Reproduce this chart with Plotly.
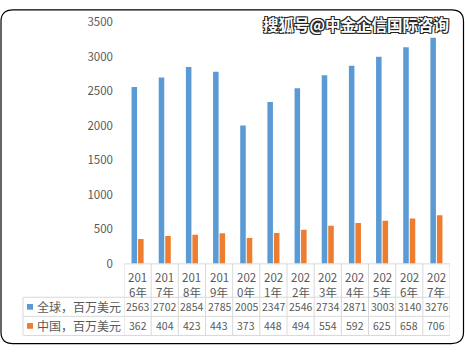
import plotly.graph_objects as go

years = ["2016年", "2017年", "2018年", "2019年", "2020年", "2021年",
         "2022年", "2023年", "2024年", "2025年", "2026年", "2027年"]
global_vals = [2563, 2702, 2854, 2785, 2005, 2347, 2546, 2734, 2871, 3003, 3140, 3276]
china_vals = [362, 404, 423, 443, 373, 448, 494, 554, 592, 625, 658, 706]
series_names = ["全球，百万美元", "中国，百万美元"]
colors = ["#5B9BD5", "#ED7D31"]
y_ticks = [0, 500, 1000, 1500, 2000, 2500, 3000, 3500]

W, H = 465, 352
def px(x):
    return x / W
def py(y):
    return 1 - y / H

TXT = "#595959"
GRID = "#D9D9D9"
FONT = "Noto Sans CJK SC, Liberation Sans, sans-serif"

fig = go.Figure()
for name, vals, c in zip(series_names, [global_vals, china_vals], colors):
    fig.add_trace(go.Bar(x=list(range(len(years))), y=vals, name=name,
                         marker=dict(color=c, line=dict(width=0)),
                         hoverinfo="y"))

x_left, x_right = 124, 450
y_top, y_zero = 14, 267
row1, row2, row3 = 302, 322, 342
leg_left = 23

shapes = []
n = len(years)
shapes.append(dict(type="line", xref="paper", yref="paper", x0=px(x_left), x1=px(x_right),
                   y0=py(y_zero), y1=py(y_zero), line=dict(color=GRID, width=1)))
for yy in [row1, row2, row3]:
    shapes.append(dict(type="line", xref="paper", yref="paper", x0=px(leg_left), x1=px(x_right),
                       y0=py(yy), y1=py(yy), line=dict(color=GRID, width=1)))
for i in range(n + 1):
    shapes.append(dict(type="line", xref="x", yref="paper", x0=i - 0.5, x1=i - 0.5,
                       y0=py(y_zero), y1=py(row3), line=dict(color=GRID, width=1)))
shapes.append(dict(type="line", xref="paper", yref="paper", x0=px(leg_left), x1=px(leg_left),
                   y0=py(row1), y1=py(row3), line=dict(color=GRID, width=1)))

for k, (yy0, c) in enumerate(zip([row1, row2], colors)):
    cy = yy0 + 10
    shapes.append(dict(type="rect", xref="paper", yref="paper",
                       x0=px(27), x1=px(33), y0=py(cy - 3), y1=py(cy + 3),
                       fillcolor=c, line=dict(width=0)))

r = 12
x0b, x1b, y0b, y1b = 1, 463.5, 1, 350.5
path = (f"M {px(x0b + r)},{py(y0b)} L {px(x1b - r)},{py(y0b)} "
        f"Q {px(x1b)},{py(y0b)} {px(x1b)},{py(y0b + r)} "
        f"L {px(x1b)},{py(y1b - r)} Q {px(x1b)},{py(y1b)} {px(x1b - r)},{py(y1b)} "
        f"L {px(x0b + r)},{py(y1b)} Q {px(x0b)},{py(y1b)} {px(x0b)},{py(y1b - r)} "
        f"L {px(x0b)},{py(y0b + r)} Q {px(x0b)},{py(y0b)} {px(x0b + r)},{py(y0b)} Z")
shapes.append(dict(type="path", xref="paper", yref="paper", path=path,
                   line=dict(color="#000000", width=1.2)))

annotations = []
for i, yr in enumerate(years):
    annotations.append(dict(x=i, xref="x", y=py(281), yref="paper", text=yr[:3],
                            showarrow=False, font=dict(size=11.5, color=TXT, family=FONT),
                            xanchor="center", yanchor="middle"))
    annotations.append(dict(x=i, xref="x", y=py(296), yref="paper", text=yr[3:],
                            showarrow=False, font=dict(size=11.5, color=TXT, family=FONT),
                            xanchor="center", yanchor="middle"))
    for vals, yy in [(global_vals, row1), (china_vals, row2)]:
        annotations.append(dict(x=i, xref="x", y=py(yy + 10), yref="paper", text=str(vals[i]),
                                showarrow=False, font=dict(size=10.5, color=TXT, family=FONT),
                                xanchor="center", yanchor="middle"))
for name, yy in zip(series_names, [row1, row2]):
    annotations.append(dict(x=px(35), xref="paper", y=py(yy + 10), yref="paper", text=name,
                            showarrow=False, font=dict(size=12, color=TXT, family=FONT),
                            xanchor="left", yanchor="middle"))

annotations.append(dict(x=px(451), xref="paper", y=py(16), yref="paper",
                        text="<b>搜狐号@中金企信国际咨询</b>", showarrow=False,
                        font=dict(size=15.5, color="#FFFFFF", family=FONT,
                                  shadow="-1px -1px 0 #222, 1px -1px 0 #222, -1px 1px 0 #222, 1px 1px 0 #222"),
                        xanchor="right", yanchor="middle"))

fig.update_layout(
    width=W, height=H,
    margin=dict(l=0, r=0, t=0, b=0),
    paper_bgcolor="#FFFFFF", plot_bgcolor="#FFFFFF",
    barmode="group", bargap=0.52, bargroupgap=0.15,
    showlegend=False,
    shapes=shapes, annotations=annotations,
    xaxis=dict(domain=[px(x_left), px(x_right)], range=[-0.5, n - 0.5],
               showticklabels=False, showgrid=False, zeroline=False, showline=False,
               ticks=""),
    yaxis=dict(domain=[py(y_zero), py(y_top)], range=[0, 3500], tickvals=y_ticks,
               showgrid=False, zeroline=False, showline=False, ticks="",
               tickfont=dict(size=11.5, color=TXT, family=FONT), ticklabelstandoff=10),
    font=dict(family=FONT),
)

fig.write_html("out.html")
